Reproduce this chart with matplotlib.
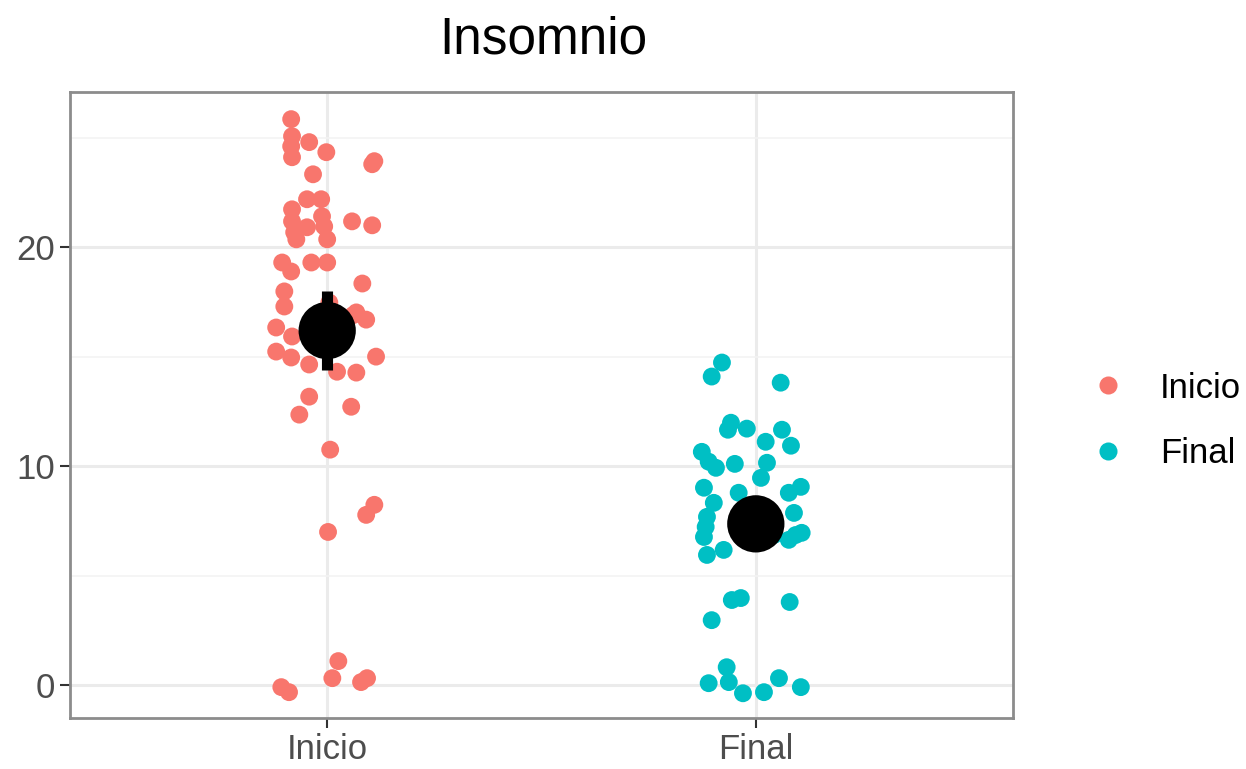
import matplotlib
matplotlib.use("Agg")
import matplotlib.pyplot as plt
from matplotlib.lines import Line2D

plt.rcParams['font.family'] = ['Liberation Sans', 'DejaVu Sans']

# --- datos ---
grupos = ["Inicio", "Final"]
colores = ["#F8766D", "#00BFC4"]

# desplazamiento horizontal (jitter) y valor de cada punto
inicio_jit = [-0.084, -0.082, -0.084, -0.042, -0.082, -0.002, 0.110, 0.105, -0.033, -0.047,
              -0.014, -0.082, -0.082, -0.012, -0.077, -0.047, -0.007, 0.000, -0.072, 0.058,
              0.105, -0.105, -0.084, -0.037, 0.000, 0.082, -0.100, -0.100, 0.005, -0.119,
              -0.082, 0.068, 0.091, -0.119, -0.084, -0.042, 0.023, 0.068, 0.114, -0.042,
              -0.065, 0.056, 0.007, 0.110, 0.091, 0.002, 0.026, 0.012, -0.107, -0.089,
              0.079, 0.093, 0.060]
inicio_val = [25.86, 25.08, 24.62, 24.81, 24.12, 24.35, 23.94, 23.80, 23.34, 22.20,
              22.20, 21.74, 21.19, 21.42, 20.69, 20.92, 20.96, 20.37, 20.37, 21.19,
              21.01, 19.31, 18.90, 19.31, 19.31, 18.35, 17.99, 17.30, 17.48, 16.34,
              15.93, 17.03, 16.70, 15.24, 14.97, 14.65, 14.32, 14.28, 15.01, 13.18,
              12.36, 12.72, 10.76, 8.24, 7.78, 7.00, 1.10, 0.32, -0.09, -0.32,
              0.14, 0.32, 16.90]

final_jit = [-0.079, -0.103, 0.058, -0.058, -0.065, -0.021, 0.023, 0.061, 0.082, -0.126,
             -0.110, -0.093, -0.049, 0.026, 0.012, -0.121, -0.098, -0.040, 0.077, 0.105,
             -0.114, 0.089, -0.117, -0.121, -0.114, -0.075, 0.107, 0.077, -0.056, -0.035,
             -0.103, 0.079, -0.068, -0.110, -0.063, -0.030, 0.019, 0.054, 0.105, -0.044,
             0.042, 0.093]
final_val = [14.74, 14.10, 13.82, 11.99, 11.67, 11.72, 11.12, 11.67, 10.94, 10.66,
             10.21, 9.93, 10.11, 10.16, 9.47, 9.02, 8.33, 8.79, 8.79, 9.06,
             7.69, 7.87, 7.23, 6.77, 5.95, 6.18, 6.96, 6.64, 3.89, 3.98,
             2.97, 3.80, 0.82, 0.09, 0.14, -0.37, -0.32, 0.32, -0.09, 7.55,
             6.86, 6.86]

medias = [16.2, 7.37]
err_std = [1.8, 0.5]

y_ticks = [0, 10, 20]
y_minor = [5, 15, 25]

# --- figura ---
fig = plt.figure(figsize=(12.46, 7.69), dpi=100)
ax = fig.add_axes([70 / 1246, 1 - 718 / 769, (1013 - 70) / 1246, (718 - 92) / 769])

ax.set_axisbelow(True)
ax.grid(True, which='major', color='#EBEBEB', linewidth=2.2)
ax.grid(True, which='minor', axis='y', color='#F3F3F3', linewidth=1.2)

puntos = [(inicio_jit, inicio_val), (final_jit, final_val)]
for i, (jit, val) in enumerate(puntos):
    xs = [i + 1 + d for d in jit]
    ax.scatter(xs, val, s=165, color=colores[i], edgecolors='none', zorder=3)

for i, (m, e) in enumerate(zip(medias, err_std)):
    ax.vlines(i + 1, m - e, m + e, color='black', linewidth=8, zorder=4)
    ax.scatter([i + 1], [m], s=1700, color='black', edgecolors='none', zorder=5)

ax.set_xlim(0.4, 2.6)
ax.set_ylim(-1.5, 27.1)
ax.set_xticks([1, 2])
ax.set_xticklabels(grupos)
ax.set_yticks(y_ticks)
ax.set_yticks(y_minor, minor=True)
ax.tick_params(axis='both', which='major', labelsize=25, labelcolor='#4D4D4D',
               color='#333333', length=7, width=1.5, pad=4)
ax.tick_params(axis='y', which='minor', length=0)

for sp in ax.spines.values():
    sp.set_color('#8C8C8C')
    sp.set_linewidth(2)

fig.text(543 / 1246, 1 - 40 / 769, "Insomnio", fontsize=37, ha='center', va='center')

handles = [Line2D([], [], linestyle='none', marker='o', markersize=13,
                  markerfacecolor=c, markeredgecolor='none') for c in colores]
fig.legend(handles, grupos, loc='center left', bbox_to_anchor=(1056 / 1246, 1 - 421 / 769),
           frameon=False, fontsize=25, handletextpad=0.9, labelspacing=0.95,
           handlelength=1.2)

fig.savefig("out.png", dpi=100)
